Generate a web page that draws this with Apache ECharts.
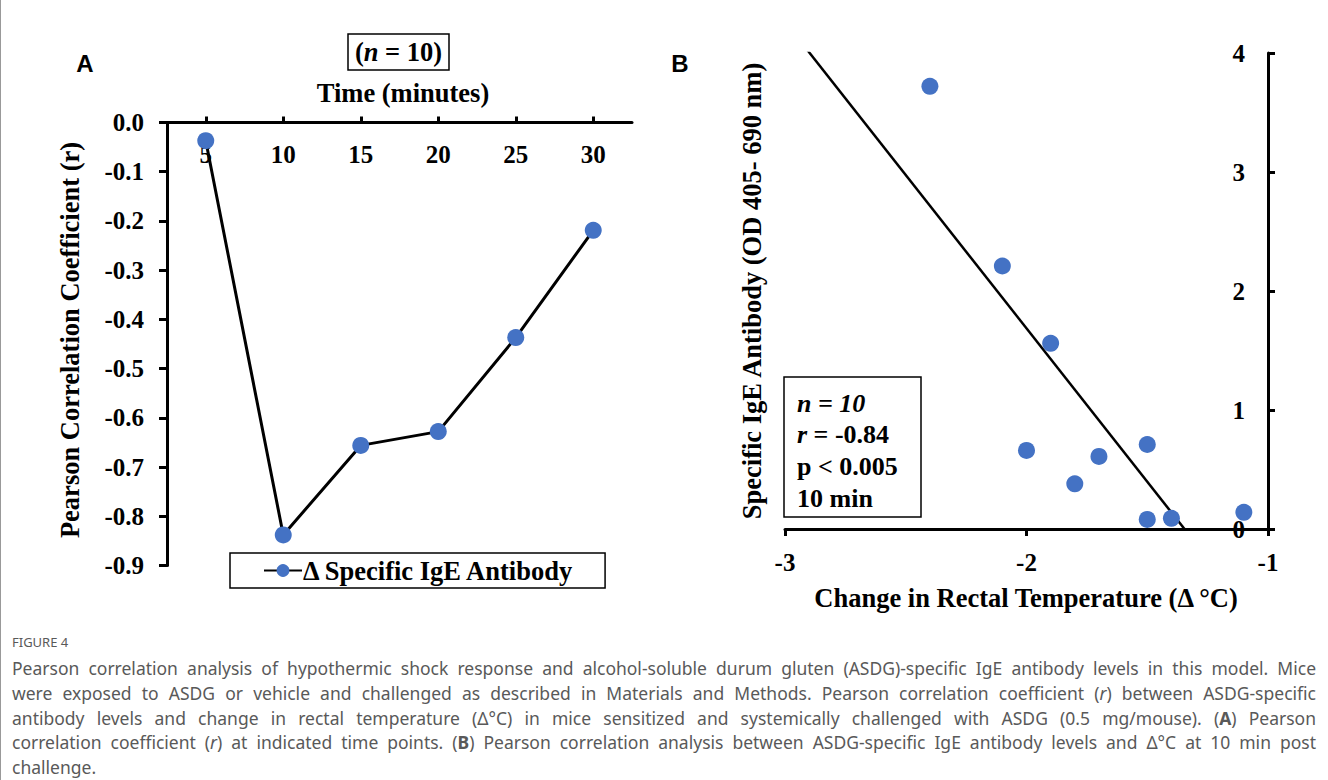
<!DOCTYPE html>
<html>
<head>
<meta charset="utf-8">
<title>Figure 4</title>
<script src="https://cdn.jsdelivr.net/npm/echarts@6/dist/echarts.min.js"></script>
<style>
  body { margin: 0; background: #fff; }
  #main { position: absolute; left: 0; top: 0; width: 1328px; height: 780px; }
  #edge { position: absolute; left: 0; top: 0; width: 1px; height: 780px; background: #999; }
  #caption { position: absolute; left: 12px; top: 631px; width: 1304px; font-family: 'Noto Sans', sans-serif; color: #595959; }
  #caption .fig { font-size: 13px; line-height: 22px; margin-bottom: 3px; }
  #caption .ln { font-size: 17.5px; line-height: 24.8px; text-align: justify; text-align-last: justify; white-space: nowrap; }
  #caption .ln.last { text-align-last: left; }
</style>
</head>
<body>
<div id="main"></div>
<div id="edge"></div>
<div id="caption">
  <div class="fig">FIGURE 4</div>
  <div class="ln">Pearson correlation analysis of hypothermic shock response and alcohol-soluble durum gluten (ASDG)-specific IgE antibody levels in this model. Mice</div>
  <div class="ln">were exposed to ASDG or vehicle and challenged as described in Materials and Methods. Pearson correlation coefficient (<i>r</i>) between ASDG-specific</div>
  <div class="ln">antibody levels and change in rectal temperature (Δ°C) in mice sensitized and systemically challenged with ASDG (0.5 mg/mouse). (<b>A</b>) Pearson</div>
  <div class="ln">correlation coefficient (<i>r</i>) at indicated time points. (<b>B</b>) Pearson correlation analysis between ASDG-specific IgE antibody levels and Δ°C at 10 min post</div>
  <div class="ln last">challenge.</div>
</div>
<script>
// panel A: correlation at each time point
const timePoints = ['5', '10', '15', '20', '25', '30'];
const pearsonR = [-0.037, -0.838, -0.656, -0.628, -0.437, -0.219];

// panel B: IgE vs change in rectal temperature at 10 min
const tempChange = [-2.40, -2.10, -1.90, -2.00, -1.70, -1.80, -1.50, -1.50, -1.40, -1.10];
const igeOD = [3.72, 2.21, 1.56, 0.66, 0.61, 0.38, 0.71, 0.08, 0.09, 0.14];

const serif = 'Liberation Serif';
const blue = '#4472C4';

// least squares trend line
function fitLine(xs, ys) {
	var n = xs.length, mx = 0, my = 0;
	for (var i = 0; i < n; i++) { mx += xs[i]; my += ys[i]; }
	mx /= n; my /= n;
	var sxy = 0, sxx = 0;
	for (var i = 0; i < n; i++) {
		sxy += (xs[i] - mx) * (ys[i] - my);
		sxx += (xs[i] - mx) * (xs[i] - mx);
	}
	var slope = sxy / sxx;
	return { slope: slope, intercept: my - slope * mx };
}

const fit = fitLine(tempChange, igeOD);
const trend = [-3, -1].map(function (x) { return [x, fit.intercept + fit.slope * x]; });
const scatterData = tempChange.map(function (x, i) { return [x, igeOD[i]]; });

const axisLbl = { color: '#000', fontFamily: serif, fontWeight: 'bold', fontSize: 25 };
const axisLn = { show: true, onZero: false, lineStyle: { color: '#000', width: 3 } };
const tickStyle = { color: '#000', width: 3 };

function label(x, y, text, opts) {
	opts = opts || {};
	return {
		type: 'text', x: x, y: y, z: opts.z || 5,
		rotation: opts.rotation || 0,
		style: {
			text: text, fill: '#000',
			fontFamily: opts.family || serif, fontWeight: 'bold', fontStyle: opts.italic ? 'italic' : 'normal',
			fontSize: opts.size || 26.5,
			align: opts.align || 'center', verticalAlign: 'middle',
			rich: { i: { fontFamily: serif, fontWeight: 'bold', fontStyle: 'italic', fontSize: opts.size || 26.5 } }
		}
	};
}

const chart = echarts.init(document.getElementById('main'), null, { renderer: 'svg' });

chart.setOption({
	animation: false,
	grid: [
		{ left: 167, top: 122.5, width: 465, height: 443 },
		{ left: 785, top: 53, width: 483, height: 476 }
	],
	xAxis: [{
		gridIndex: 0,
		type: 'category',
		data: timePoints,
		position: 'top',
		boundaryGap: true,
		axisLine: axisLn,
		axisTick: { show: true, alignWithLabel: true, length: 6, lineStyle: tickStyle },
		axisLabel: Object.assign({ inside: true, margin: 19 }, axisLbl),
		splitLine: { show: false }
	}, {
		gridIndex: 1,
		type: 'value',
		min: -3, max: -1, interval: 1,
		position: 'bottom',
		axisLine: axisLn,
		axisTick: { show: true, length: 7, lineStyle: tickStyle },
		axisLabel: Object.assign({ margin: 21 }, axisLbl),
		splitLine: { show: false }
	}],
	yAxis: [{
		gridIndex: 0,
		type: 'value',
		min: -0.9, max: 0, interval: 0.1,
		axisLine: axisLn,
		axisTick: { show: true, length: 8, lineStyle: tickStyle },
		axisLabel: Object.assign({ margin: 23, formatter: function (v) { return v.toFixed(1); } }, axisLbl),
		splitLine: { show: false }
	}, {
		gridIndex: 1,
		type: 'value',
		min: 0, max: 4, interval: 1,
		position: 'right',
		axisLine: axisLn,
		axisTick: { show: true, length: 7, lineStyle: tickStyle },
		axisLabel: Object.assign({ inside: true, margin: 23 }, axisLbl),
		splitLine: { show: false }
	}],
	legend: {
		data: ['Δ Specific IgE Antibody'],
		left: 230, top: 553,
		itemWidth: 38, itemHeight: 16, itemGap: 0,
		padding: [4, 30, 4, 33],
		borderColor: '#000', borderWidth: 1.5,
		textStyle: { color: '#000', fontFamily: serif, fontWeight: 'bold', fontSize: 26.5, padding: [0, 0, 0, -4] }
	},
	series: [{
		name: 'Δ Specific IgE Antibody',
		type: 'line',
		xAxisIndex: 0, yAxisIndex: 0,
		data: pearsonR,
		symbol: 'circle', symbolSize: 17,
		itemStyle: { color: blue, opacity: 1 },
		lineStyle: { color: '#000', width: 3 }
	}, {
		name: 'IgE',
		type: 'scatter',
		xAxisIndex: 1, yAxisIndex: 1,
		data: scatterData,
		symbolSize: 17,
		itemStyle: { color: blue, opacity: 1 }
	}, {
		name: 'trend',
		type: 'line',
		xAxisIndex: 1, yAxisIndex: 1,
		data: trend,
		showSymbol: false,
		clip: true,
		lineStyle: { color: '#000', width: 2.5 },
		z: 1
	}],
	graphic: [
		label(85, 63, 'A', { family: 'Liberation Sans', size: 24 }),
		label(680, 63, 'B', { family: 'Liberation Sans', size: 24 }),
		{ type: 'rect', shape: { x: 348, y: 34, width: 101, height: 36 }, style: { fill: 'none', stroke: '#000', lineWidth: 1.5 } },
		label(398.5, 52, '({i|n} = 10)'),
		label(403, 93, 'Time (minutes)'),
		label(70, 340, 'Pearson Correlation Coefficient (r)', { rotation: Math.PI / 2 }),
		label(752, 291, 'Specific IgE Antibody (OD 405- 690 nm)', { rotation: Math.PI / 2 }),
		label(1026, 598, 'Change in Rectal Temperature (Δ °C)'),
		{ type: 'rect', z: 10, shape: { x: 784, y: 377, width: 137, height: 140 }, style: { fill: '#fff', stroke: '#000', lineWidth: 1.5 } },
		label(797, 403, 'n = 10', { italic: true, align: 'left', size: 26, z: 11 }),
		label(797, 434, '{i|r} = -0.84', { align: 'left', size: 26, z: 11 }),
		label(797, 466, 'p < 0.005', { align: 'left', size: 26, z: 11 }),
		label(797, 498, '10 min', { align: 'left', size: 26, z: 11 })
	]
});
</script>
</body>
</html>
